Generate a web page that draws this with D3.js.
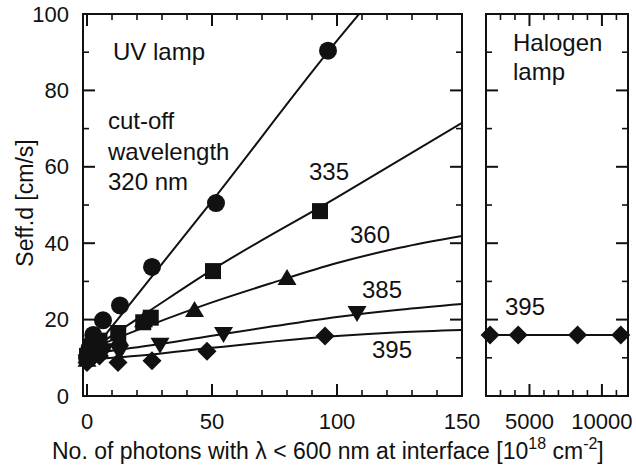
<!DOCTYPE html>
<html>
<head>
<meta charset="utf-8">
<script src="https://cdn.jsdelivr.net/npm/d3@7"></script>
<style>
  html, body { margin: 0; padding: 0; background: #fff; }
  svg text { font-family: "Liberation Sans", Arial, sans-serif; fill: #111; }
</style>
</head>
<body>
<svg id="chart" width="636" height="472"></svg>
<script>
// Measured points (x = photons [1e18 cm^-2], y = Seff.d [cm/s]) per cut-off wavelength
const uv320 = [[0,10],[1,12.5],[2.5,16],[6.4,19.8],[13.2,23.7],[26,33.8],[51.6,50.5],[96.4,90.4]];
const uv335 = [[0,10.5],[2,13],[5,14.5],[12.5,16.5],[22.5,19.3],[25.5,20.5],[50.4,32.7],[93.2,48.4]];
const uv360 = [[0,9.5],[3,12],[6,13.5],[13,15],[22.6,19.8],[43,22.5],[80,30.9]];
const uv385 = [[0,9],[3,11],[7,12],[13,11.5],[29.2,13.4],[54.6,16.2],[108,21.7]];
const uv395 = [[0,8.8],[2,10],[5,10.5],[12.4,8.8],[26,9.2],[48,11.7],[95.2,15.7]];

// Fitted curves, sampled along x
const fit320 = [[0,10],[50,51],[100,93],[112,102.5]];
const fit335 = [[0,11.5],[25,22.3],[50,33],[100,52],[150,71.5]];
const fit360 = [[0,12],[25,18.5],[50,24.5],[75,29.8],[100,34.8],[125,38.8],[150,41.9]];
const fit385 = [[0,11],[25,13.2],[50,15.8],[75,18.3],[100,20.7],[125,22.6],[150,24.1]];
const fit395 = [[0,9.5],[25,10.8],[50,12.6],[75,14.3],[100,15.7],[125,16.7],[150,17.3]];

// Halogen lamp, 395 nm cut-off
const halogen395 = [[2280,16],[4220,16],[8320,16],[11300,16]];
const halogenFit = [[2000,16],[11800,16]];

// Tick labels
const yTicks = [0, 20, 40, 60, 80, 100];
const xTicksLeft = [0, 50, 100, 150];
const xTicksRight = [5000, 10000];

const svg = d3.select("#chart");
const ink = "#111";

const y = d3.scaleLinear().domain([0, 100]).range([396, 14]);
const xL = d3.scaleLinear().domain([0, 150]).range([87, 462]);
const xR = d3.scaleLinear().domain([2000, 11800]).range([486, 628]);
const leftEdge = 83;

// ---- panel frames and ticks ----
function drawFrame(x0, x1, xs, majorX, minorX) {
  const g = svg.append("g");
  g.append("rect").attr("x", x0).attr("y", y(100)).attr("width", x1 - x0).attr("height", y(0) - y(100))
    .attr("fill", "none").attr("stroke", ink).attr("stroke-width", 2);
  const yMinor = d3.range(10, 100, 20);
  // inward y ticks on both sides
  [[x0, 1], [x1, -1]].forEach(([xx, dir]) => {
    yTicks.forEach(v => g.append("line").attr("x1", xx).attr("x2", xx + dir * 12)
      .attr("y1", y(v)).attr("y2", y(v)).attr("stroke", ink).attr("stroke-width", 2));
    yMinor.forEach(v => g.append("line").attr("x1", xx).attr("x2", xx + dir * 6)
      .attr("y1", y(v)).attr("y2", y(v)).attr("stroke", ink).attr("stroke-width", 1.6));
  });
  // inward x ticks on bottom and top
  [[y(0), -1], [y(100), 1]].forEach(([yy, dir]) => {
    majorX.forEach(v => g.append("line").attr("x1", xs(v)).attr("x2", xs(v))
      .attr("y1", yy).attr("y2", yy + dir * 12).attr("stroke", ink).attr("stroke-width", 2));
    minorX.forEach(v => g.append("line").attr("x1", xs(v)).attr("x2", xs(v))
      .attr("y1", yy).attr("y2", yy + dir * 6).attr("stroke", ink).attr("stroke-width", 1.6));
  });
}
drawFrame(leftEdge, 462, xL, xTicksLeft, d3.range(10, 150, 10).filter(v => v % 50 !== 0));
drawFrame(486, 628, xR, xTicksRight, d3.range(3000, 12000, 1000).filter(v => v % 5000 !== 0));

// ---- tick labels ----
svg.append("g").selectAll("text").data(yTicks).join("text")
  .attr("x", 69).attr("y", d => y(d) + 7.5).attr("text-anchor", "end")
  .attr("font-size", 22).text(d => d);
svg.append("g").selectAll("text").data(xTicksLeft).join("text")
  .attr("x", d => xL(d)).attr("y", 429).attr("text-anchor", "middle")
  .attr("font-size", 22).text(d => d);
svg.append("g").selectAll("text").data(xTicksRight).join("text")
  .attr("x", d => xR(d)).attr("y", 429).attr("text-anchor", "middle")
  .attr("font-size", 22).text(d => d);

// ---- axis titles ----
svg.append("text").attr("transform", "translate(33,203) rotate(-90)")
  .attr("text-anchor", "middle").attr("font-size", 23).text("Seff.d [cm/s]");

const xt = svg.append("text").attr("x", 52).attr("y", 459).attr("font-size", 23);
xt.append("tspan").text("No. of photons with λ < 600 nm at interface [10");
xt.append("tspan").attr("dy", -10).attr("font-size", 16).text("18");
xt.append("tspan").attr("dy", 10).text(" cm");
xt.append("tspan").attr("dy", -10).attr("font-size", 16).text("-2");
xt.append("tspan").attr("dy", 10).text("]");

// ---- curves ----
svg.append("clipPath").attr("id", "clipL").append("rect")
  .attr("x", leftEdge).attr("y", y(100)).attr("width", 462 - leftEdge).attr("height", y(0) - y(100));

const lineL = d3.line().x(d => xL(d[0])).y(d => y(d[1])).curve(d3.curveMonotoneX);
const curves = svg.append("g").attr("clip-path", "url(#clipL)");
[fit320, fit335, fit360, fit385, fit395].forEach(f =>
  curves.append("path").attr("d", lineL(f)).attr("fill", "none").attr("stroke", ink).attr("stroke-width", 2));

const lineR = d3.line().x(d => xR(d[0])).y(d => y(d[1]));
svg.append("path").attr("d", lineR(halogenFit)).attr("fill", "none").attr("stroke", ink).attr("stroke-width", 2);

// ---- markers ----
const shapes = {
  circle: "M0,-9A9,9 0 1,1 0,9A9,9 0 1,1 0,-9Z",
  square: "M-8,-8H8V8H-8Z",
  up: "M0,-9L9.5,7L-9.5,7Z",
  down: "M0,9L9.5,-7L-9.5,-7Z",
  diamond: "M0,-9.5L9.5,0L0,9.5L-9.5,0Z"
};
function markers(data, xs, shape) {
  svg.append("g").selectAll("path").data(data).join("path")
    .attr("transform", d => `translate(${xs(d[0])},${y(d[1])})`)
    .attr("d", shapes[shape]).attr("fill", ink);
}
markers(uv395, xL, "diamond");
markers(uv385, xL, "down");
markers(uv360, xL, "up");
markers(uv335, xL, "square");
markers(uv320, xL, "circle");
markers(halogen395, xR, "diamond");

// ---- annotations ----
const notes = [
  { x: 113, y: 60, t: "UV lamp" },
  { x: 108, y: 129, t: "cut-off" },
  { x: 108, y: 160, t: "wavelength" },
  { x: 108, y: 190, t: "320 nm" },
  { x: 309, y: 180, t: "335" },
  { x: 350, y: 243, t: "360" },
  { x: 362, y: 298, t: "385" },
  { x: 372, y: 358, t: "395" },
  { x: 505, y: 315, t: "395" },
  { x: 513, y: 51, t: "Halogen" },
  { x: 513, y: 80, t: "lamp" }
];
svg.append("g").selectAll("text").data(notes).join("text")
  .attr("x", d => d.x).attr("y", d => d.y).attr("font-size", 24).text(d => d.t);
</script>
</body>
</html>
